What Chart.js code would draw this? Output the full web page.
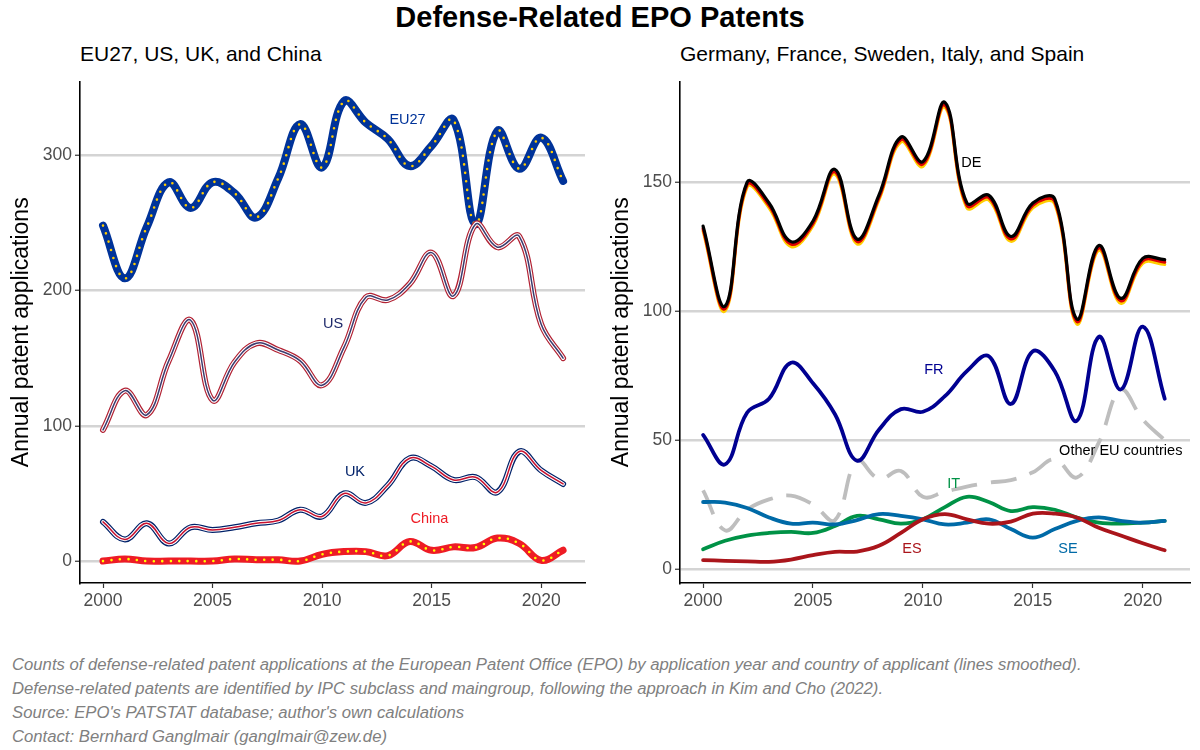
<!DOCTYPE html>
<html lang="en">
<head>
<meta charset="UTF-8">
<title>Defense-Related EPO Patents</title>
<script src="https://cdn.jsdelivr.net/npm/chart.js"></script>
<style>
  body { margin: 0; width: 1200px; height: 750px; background: #fff; position: relative; overflow: hidden;
         font-family: "Liberation Sans", Arial, sans-serif; }
  .titulo { position: absolute; top: 1px; left: 0; width: 1200px; text-align: center; font-size: 29px; font-weight: bold; }
  .sub { position: absolute; top: 42px; font-size: 21px; color: #000; }
  .painel { position: absolute; top: 68px; height: 560px; }
  .nota { position: absolute; left: 12px; top: 653px; font-size: 16.7px; font-style: italic; color: #808080; line-height: 24px; }
</style>
</head>
<body>

<div class="titulo">Defense-Related EPO Patents</div>
<div class="sub" style="left:80px">EU27, US, UK, and China</div>
<div class="sub" style="left:680px">Germany, France, Sweden, Italy, and Spain</div>

<div class="painel" style="left:0; width:590px"><canvas id="grafico_esq"></canvas></div>
<div class="painel" style="left:600px; width:595px"><canvas id="grafico_dir"></canvas></div>

<div class="nota">
  Counts of defense-related patent applications at the European Patent Office (EPO) by application year and country of applicant (lines smoothed).<br>
  Defense-related patents are identified by IPC subclass and maingroup, following the approach in Kim and Cho (2022).<br>
  Source: EPO's PATSTAT database; author's own calculations<br>
  Contact: Bernhard Ganglmair (ganglmair@zew.de)
</div>

<script>
// anos e valores
const anos = [2000, 2001, 2002, 2003, 2004, 2005, 2006, 2007, 2008, 2009, 2010,
              2011, 2012, 2013, 2014, 2015, 2016, 2017, 2018, 2019, 2020, 2021];

const eu27  = [248, 209, 247, 280, 261, 280, 272, 254, 283, 323, 291, 340, 324, 312, 292, 307, 326, 249, 318, 290, 313, 281];
const us    = [97, 126, 108, 148, 178, 119, 147, 161, 156, 148, 130, 158, 195, 193, 205, 228, 196, 249, 232, 240, 175, 150];
const uk    = [29, 16, 28, 13, 25, 23, 25, 28, 30, 38, 33, 50, 43, 56, 76, 70, 60, 62, 51, 81, 67, 57];
const china = [0, 1.5, 0, 0, 0, 0, 1.5, 1, 1, 0, 5, 7, 7, 4, 14.5, 8, 10.5, 10, 17, 13, 0.5, 8];

const de    = [132, 101, 149, 141, 126, 134, 154, 127, 144, 166.5, 157, 180, 141, 144, 128, 141, 142.5, 96, 124.5, 104, 119.5, 119];
const fr    = [52, 40.6, 60.6, 66, 80, 72, 60, 42, 54, 62, 61, 67, 76.7, 82.5, 64, 84.4, 76.7, 57.5, 90, 69.6, 94, 66];
const outros = [30.5, 15, 23, 27, 28.5, 25, 19, 42, 35, 38, 28, 30, 32, 33.5, 34.5, 37.5, 42.5, 35.5, 49, 69.5, 58, 50];
const it    = [7.7, 11, 13, 14, 14.4, 14, 16.7, 20.6, 19.3, 17.6, 19.3, 24, 28, 26, 22.5, 24, 23, 20, 18, 17.6, 18, 18.7];
const se    = [26, 25.8, 23.7, 20, 17.6, 18, 17.3, 19, 21.3, 20.6, 19.3, 17.3, 18, 19.3, 15.5, 12.2, 15.5, 18.7, 20, 18.7, 18, 18.7];
const es    = [3.5, 3.2, 3, 2.8, 3.7, 5.4, 6.7, 6.8, 9, 14, 19.3, 21.3, 19.3, 17.6, 18.4, 21.5, 21.5, 20, 16, 13, 10, 7.3];

const ticksX = [2000, 2005, 2010, 2015, 2020];
const ticksEsq = [0, 100, 200, 300];
const ticksDir = [0, 50, 100, 150];

// rotulos das linhas (posicao em unidades do grafico)
const rotulosEsq = [
  { texto: 'EU27', ano: 2013.9, valor: 326, cor: '#003399' },
  { texto: 'US', ano: 2010.5, valor: 175, cor: '#1f2a6b' },
  { texto: 'UK', ano: 2011.5, valor: 66, cor: '#012169' },
  { texto: 'China', ano: 2014.9, valor: 31, cor: '#EE1C25' }
];
const rotulosDir = [
  { texto: 'DE', ano: 2012.2, valor: 157.5, cor: '#000000' },
  { texto: 'FR', ano: 2010.5, valor: 77, cor: '#000091' },
  { texto: 'Other EU countries', ano: 2019.0, valor: 45.6, cor: '#000000' },
  { texto: 'IT', ano: 2011.4, valor: 33, cor: '#009246' },
  { texto: 'ES', ano: 2009.5, valor: 7.7, cor: '#AA151B' },
  { texto: 'SE', ano: 2016.6, valor: 7.7, cor: '#006AA7' }
];

Chart.defaults.font.family = '"Liberation Sans", Arial, sans-serif';

function pontos(valores) {
  return anos.map((a, i) => ({ x: a, y: valores[i] }));
}

function camada(valores, cor, largura, ordem, extra) {
  return Object.assign({
    data: pontos(valores),
    borderColor: cor,
    borderWidth: largura,
    pointRadius: 0,
    tension: 0.4,
    fill: false,
    borderCapStyle: 'round',
    borderJoinStyle: 'round',
    order: ordem
  }, extra || {});
}

// desloca algumas camadas (listras da bandeira alema)
const pluginDeslocar = {
  id: 'deslocar',
  beforeDatasetDraw(chart, args) {
    const ds = chart.data.datasets[args.index];
    if (ds.deslocY) { chart.ctx.save(); chart.ctx.translate(0, ds.deslocY); }
  },
  afterDatasetDraw(chart, args) {
    const ds = chart.data.datasets[args.index];
    if (ds.deslocY) chart.ctx.restore();
  }
};

const pluginRotulos = {
  id: 'rotulos',
  afterDatasetsDraw(chart, args, opts) {
    const ctx = chart.ctx;
    ctx.save();
    ctx.font = '14.5px "Liberation Sans", Arial, sans-serif';
    ctx.textAlign = 'center';
    ctx.textBaseline = 'middle';
    opts.lista.forEach(r => {
      ctx.fillStyle = r.cor;
      ctx.fillText(r.texto, chart.scales.x.getPixelForValue(r.ano), chart.scales.y.getPixelForValue(r.valor));
    });
    ctx.restore();
  }
};

function opcoes(yMin, yMax, xMax, ticksY, rotulos) {
  return {
    responsive: true,
    maintainAspectRatio: false,
    animation: false,
    layout: { padding: { top: 2, right: 5, left: 0, bottom: 0 } },
    plugins: { legend: { display: false }, tooltip: { enabled: false }, rotulos: { lista: rotulos } },
    scales: {
      x: {
        type: 'linear', min: 1998.95, max: xMax,
        afterBuildTicks: s => { s.ticks = ticksX.map(v => ({ value: v })); },
        afterFit: s => { s.height = 45; },
        grid: { drawOnChartArea: false, drawTicks: true, tickLength: 5, tickColor: '#333', tickWidth: 1.2 },
        border: { display: true, color: '#000', width: 1.6 },
        ticks: { color: '#4d4d4d', font: { size: 17.5 }, padding: 3, callback: v => String(v) }
      },
      y: {
        min: yMin, max: yMax,
        afterBuildTicks: s => { s.ticks = ticksY.map(v => ({ value: v })); },
        afterFit: s => { s.width = 80; },
        grid: { color: '#d4d4d4', lineWidth: 2.5, drawTicks: true, tickLength: 5, tickColor: '#333', tickWidth: 1.2 },
        border: { display: true, color: '#000', width: 1.6 },
        ticks: { color: '#4d4d4d', font: { size: 17.5 }, padding: 3 },
        title: { display: true, text: 'Annual patent applications', color: '#000', font: { size: 23 }, padding: { top: 8, bottom: 0 } }
      }
    }
  };
}

function plotarEsquerda() {
  const datasets = [
    camada(china, '#EE1C25', 7, 1),
    camada(china, '#FFFF00', 2.6, 0, { borderDash: [0, 8.5] }),
    camada(uk, '#012169', 6, 4),
    camada(uk, '#ffffff', 3.6, 3),
    camada(uk, '#C8102E', 1.5, 2),
    camada(us, '#B22234', 6, 7),
    camada(us, '#ffffff', 3.6, 6),
    camada(us, '#3C3B6E', 1.5, 5),
    camada(eu27, '#003399', 8, 9),
    camada(eu27, '#FFCC00', 2.6, 8, { borderDash: [0, 8.5] })
  ];
  new Chart(document.getElementById('grafico_esq').getContext('2d'), {
    type: 'line',
    data: { datasets: datasets },
    options: opcoes(-16.2, 354.5, 2022.0, ticksEsq, rotulosEsq),
    plugins: [pluginDeslocar, pluginRotulos]
  });
}

function plotarDireita() {
  const datasets = [
    camada(de, '#000000', 3.2, 0, { deslocY: -2.4 }),
    camada(de, '#DD0000', 3.2, 1),
    camada(de, '#FFCE00', 3.2, 2, { deslocY: 2.4 }),
    camada(fr, '#000091', 3.8, 3),
    camada(es, '#AA151B', 3.8, 4),
    camada(se, '#006AA7', 3.8, 5),
    camada(it, '#009246', 3.8, 6),
    camada(outros, '#bebebe', 3.8, 7, { borderDash: [26, 14], borderCapStyle: 'butt' })
  ];
  new Chart(document.getElementById('grafico_dir').getContext('2d'), {
    type: 'line',
    data: { datasets: datasets },
    options: opcoes(-5.4, 189, 2022.15, ticksDir, rotulosDir),
    plugins: [pluginDeslocar, pluginRotulos]
  });
}

plotarEsquerda();
plotarDireita();
</script>
</body>
</html>
